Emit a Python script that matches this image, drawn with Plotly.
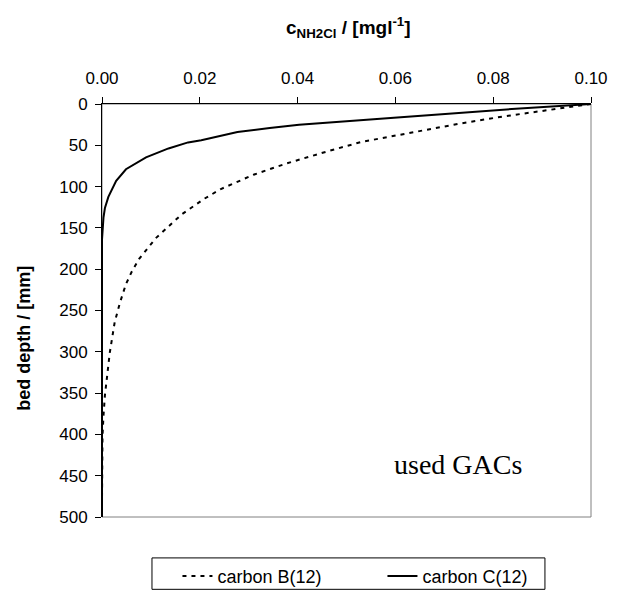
import plotly.graph_objects as go

# carbon C(12) - solid line
c_conc = [0.100, 0.0838, 0.0597, 0.0477, 0.0403, 0.0343, 0.0277, 0.0203, 0.0176,
          0.0136, 0.0090, 0.0049, 0.0029, 0.0013, 0.0006, 0.0003, 0.0000, 0.0000]
c_depth = [0, 6.1, 16.5, 21.5, 25, 29, 33.8, 44, 46.5,
           53.8, 64.5, 79, 93, 112.5, 126, 137.5, 164, 500]

# carbon B(12) - dotted line
b_conc = [0.100, 0.0818, 0.0731, 0.0664, 0.0597, 0.0530, 0.0464, 0.0413, 0.0377,
          0.0310, 0.0243, 0.0210, 0.0163, 0.0110, 0.0076, 0.0061, 0.0049, 0.0037,
          0.0026, 0.0016, 0.0011, 0.0006, 0.0003, 0.0001, 0.0000, 0.0000]
b_depth = [0, 15.3, 23.8, 31, 38, 46, 56.8, 65.3, 72,
           85.6, 103, 114.4, 133.6, 162.4, 187.4, 202.8, 218, 240,
           264, 300.7, 327.5, 352.5, 377.5, 402, 477, 500]

x_ticks = [0.00, 0.02, 0.04, 0.06, 0.08, 0.10]
y_ticks = [0, 50, 100, 150, 200, 250, 300, 350, 400, 450, 500]

FONT = "Liberation Sans, Arial, sans-serif"

# plot area in pixels: x 102..601, y 104..538
PL, PR, PT, PB = 102, 601, 104, 538
PW, PH = PR - PL, PB - PT


def px_x(p):
    return (p - PL) / PW


def px_y(p):
    return (PB - p) / PH


fig = go.Figure()
fig.add_trace(go.Scatter(x=b_conc, y=b_depth, mode="lines", name="carbon B(12)",
                         line=dict(color="black", width=2, dash="4px,5px")))
fig.add_trace(go.Scatter(x=c_conc, y=c_depth, mode="lines", name="carbon C(12)",
                         line=dict(color="black", width=2)))

# plot-area border
fig.add_shape(type="rect", xref="paper", yref="paper", x0=0, y0=0, x1=1, y1=1,
              line=dict(color="#808080", width=1), layer="below")
# legend box
fig.add_shape(type="rect", xref="paper", yref="paper",
              x0=px_x(153), x1=px_x(554), y0=px_y(581), y1=px_y(614),
              line=dict(color="black", width=1), fillcolor="white", layer="below")

fig.update_layout(
    width=620, height=607,
    margin=dict(l=PL, r=620 - PR, t=PT, b=607 - PB),
    paper_bgcolor="white", plot_bgcolor="white",
    font=dict(family=FONT, size=17, color="black"),
    showlegend=True,
    legend=dict(orientation="h", x=px_x(179), xanchor="left", y=px_y(581), yanchor="top",
                borderwidth=0, bgcolor="rgba(0,0,0,0)",
                font=dict(size=18), entrywidth=160, entrywidthmode="pixels",
                tracegroupgap=0),
    xaxis=dict(side="top", range=[0, 0.1], tickvals=x_ticks,
               ticktext=[f"{v:.2f}" for v in x_ticks],
               ticks="outside", ticklen=6, tickcolor="black",
               showline=True, linecolor="black", linewidth=1,
               showgrid=False, zeroline=False, ticklabelstandoff=6),
    yaxis=dict(range=[500, 0], tickvals=y_ticks,
               ticks="outside", ticklen=6, tickcolor="black",
               showline=True, linecolor="black", linewidth=1,
               showgrid=False, zeroline=False, ticklabelstandoff=4),
    annotations=[
        dict(text="<b>c<sub>NH2Cl</sub> / [mgl<sup>-1</sup>]</b>", xref="paper", yref="paper",
             x=0.505, y=px_y(24), xanchor="center", yanchor="middle",
             showarrow=False, font=dict(size=19)),
        dict(text="<b>bed depth / [mm]</b>", xref="paper", yref="paper",
             x=px_x(22), y=px_y(350), xanchor="center", yanchor="middle",
             textangle=-90, showarrow=False, font=dict(size=18)),
        dict(text="used GACs", xref="paper", yref="paper",
             x=px_x(465), y=px_y(483), xanchor="center", yanchor="middle",
             showarrow=False, font=dict(family="Liberation Serif, Times New Roman, serif", size=28)),
    ],
)

fig.write_html("out.html")
